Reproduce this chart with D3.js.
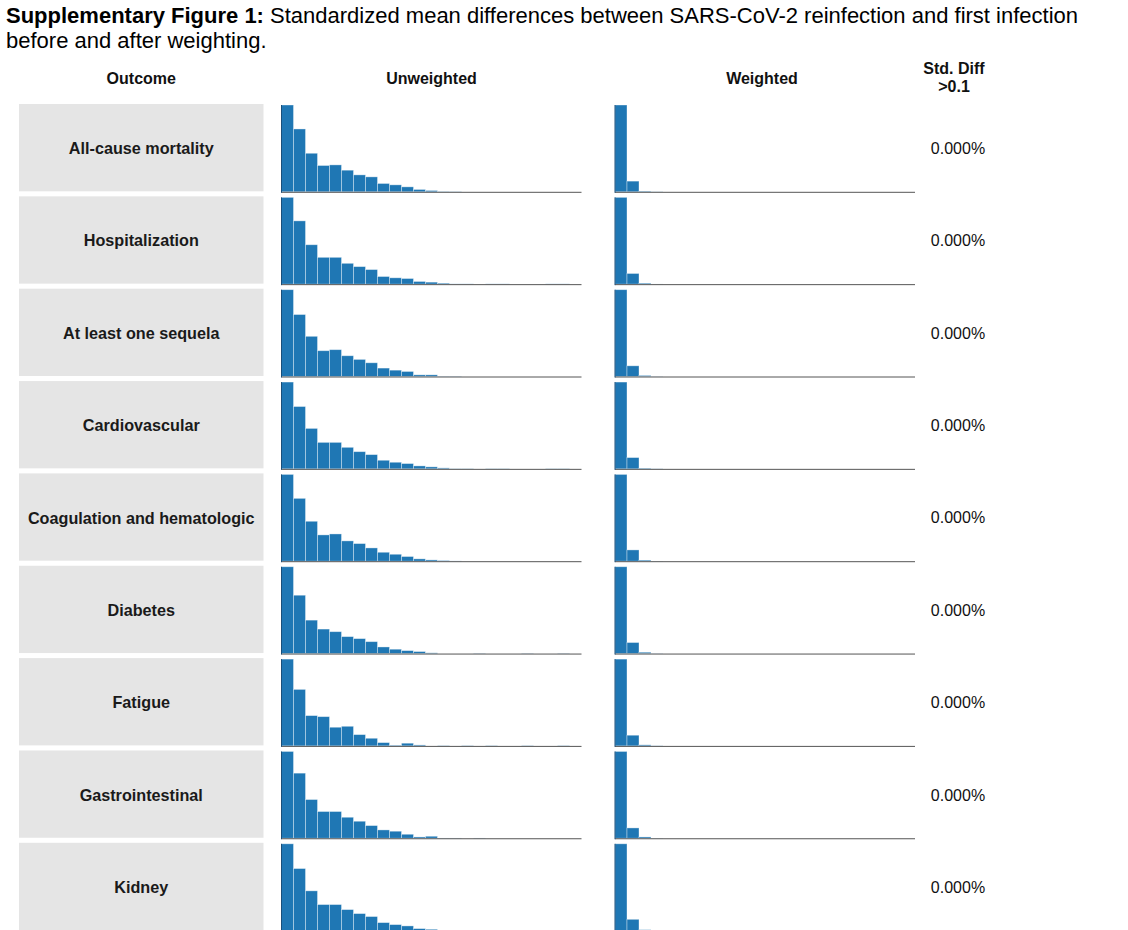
<!DOCTYPE html>
<html>
<head>
<meta charset="utf-8">
<script src="https://cdn.jsdelivr.net/npm/d3@7"></script>
<style>
  body { margin: 0; background: #fff; }
  text { font-family: "Liberation Sans", Arial, sans-serif; }
</style>
</head>
<body>
<div id="chart"></div>
<script>
// DATA ------------------------------------------------------------
let outcomes = [
  "All-cause mortality",
  "Hospitalization",
  "At least one sequela",
  "Cardiovascular",
  "Coagulation and hematologic",
  "Diabetes",
  "Fatigue",
  "Gastrointestinal",
  "Kidney",
];

// relative bin heights (tallest bin = 100), 25 bins per histogram
let unweighted = [
  [100, 72.4, 44.4, 30.3, 31.0, 24.9, 19.5, 17.2, 9.6, 8.0, 5.7, 2.7, 1.5, 0.4, 0.3, 0, 0, 0, 0, 0, 0, 0, 0, 0, 0],
  [100, 72.9, 45.4, 30.9, 30.9, 24.0, 20.2, 16.8, 8.8, 7.3, 6.5, 3.1, 2.3, 1.1, 0.3, 0.3, 0, 0.3, 0.3, 0, 0, 0, 0.3, 0.3, 0],
  [100, 71.4, 46.3, 29.7, 30.9, 23.9, 19.7, 15.8, 9.7, 7.3, 5.8, 1.9, 1.9, 0.3, 0.3, 0, 0, 0, 0, 0, 0, 0, 0, 0, 0],
  [100, 71.8, 46.6, 30.5, 30.5, 24.8, 19.8, 16.4, 9.9, 7.6, 6.1, 3.4, 2.3, 1.1, 0.3, 0.3, 0, 0.3, 0.3, 0, 0, 0, 0.3, 0.3, 0],
  [100, 72.4, 46.0, 30.3, 31.4, 23.4, 20.3, 15.3, 10.3, 8.0, 5.4, 2.7, 1.5, 0.8, 0.3, 0, 0, 0, 0, 0, 0, 0, 0, 0, 0],
  [100, 67.2, 38.5, 28.2, 25.2, 19.5, 17.2, 13.7, 7.6, 5.0, 3.4, 2.3, 0.8, 0, 0, 0, 0.3, 0, 0, 0, 0.3, 0, 0, 0.3, 0],
  [100, 65.1, 34.9, 33.7, 21.5, 22.6, 13.0, 8.8, 3.8, 0.8, 3.1, 1.1, 0, 0.3, 0, 0.3, 0, 0.3, 0, 0, 0.3, 0, 0, 0.3, 0],
  [100, 75.0, 44.6, 30.8, 30.8, 24.2, 19.6, 14.6, 9.6, 8.1, 4.6, 1.5, 2.3, 0.3, 0.3, 0, 0.3, 0, 0, 0, 0, 0, 0, 0, 0],
  [100, 71.5, 45.8, 30.0, 30.0, 24.2, 19.6, 16.2, 9.2, 6.9, 5.4, 2.3, 1.5, 0.4, 0.3, 0, 0, 0, 0, 0, 0, 0, 0, 0, 0],
];

let weighted = [
  [100, 12.3, 0.8, 0.2, 0, 0, 0, 0, 0, 0, 0, 0, 0, 0, 0, 0, 0, 0, 0, 0, 0, 0, 0, 0, 0],
  [100, 12.3, 1.1, 0.2, 0, 0, 0, 0, 0, 0, 0, 0, 0, 0, 0, 0, 0, 0, 0, 0, 0, 0, 0, 0, 0],
  [100, 12.3, 1.2, 0.2, 0, 0, 0, 0, 0, 0, 0, 0, 0, 0, 0, 0, 0, 0, 0, 0, 0, 0, 0, 0, 0],
  [100, 13.0, 0.8, 0.2, 0, 0, 0, 0, 0, 0, 0, 0, 0, 0, 0, 0, 0, 0, 0, 0, 0, 0, 0, 0, 0],
  [100, 13.0, 1.2, 0.2, 0, 0, 0, 0, 0, 0, 0, 0, 0, 0, 0, 0, 0, 0, 0, 0, 0, 0, 0, 0, 0],
  [100, 12.7, 1.5, 0.2, 0, 0, 0, 0, 0, 0, 0, 0, 0, 0, 0, 0, 0, 0, 0, 0, 0, 0, 0, 0, 0],
  [100, 12.3, 1.2, 0.2, 0, 0, 0, 0, 0, 0, 0, 0, 0, 0, 0, 0, 0, 0, 0, 0, 0, 0, 0, 0, 0],
  [100, 11.9, 1.5, 0.2, 0, 0, 0, 0, 0, 0, 0, 0, 0, 0, 0, 0, 0, 0, 0, 0, 0, 0, 0, 0, 0],
  [100, 13.0, 1.0, 0.2, 0, 0, 0, 0, 0, 0, 0, 0, 0, 0, 0, 0, 0, 0, 0, 0, 0, 0, 0, 0, 0],
];

let std_diff = ["0.000%", "0.000%", "0.000%", "0.000%", "0.000%", "0.000%", "0.000%", "0.000%", "0.000%"];

let headers = ["Outcome", "Unweighted", "Weighted"];

// LAYOUT ----------------------------------------------------------
let width = 1128,
  height = 930;

let layout = {
  rows_top: 104,
  row_pitch: 92.35,
  row_height: 87.3,
  label_x0: 19,
  label_x1: 263.5,
  unw_x0: 281.5,
  unw_x1: 581.5,
  w_x0: 615,
  w_x1: 915,
  diff_x: 958,
  n_bins: 25,
};

let svg = d3
  .select("#chart")
  .append("svg")
  .attr("width", width)
  .attr("height", height);

// Title
let title = svg.append("text").attr("x", 6).attr("y", 23).attr("font-size", 22);
title.append("tspan").attr("font-weight", "bold").text("Supplementary Figure 1:");
title
  .append("tspan")
  .text(" Standardized mean differences between SARS-CoV-2 reinfection and first infection");
svg
  .append("text")
  .attr("x", 6)
  .attr("y", 48)
  .attr("font-size", 22)
  .text("before and after weighting.");

// Column headers
let header_x = [
  (layout.label_x0 + layout.label_x1) / 2,
  (layout.unw_x0 + layout.unw_x1) / 2,
  762,
];
svg
  .selectAll(".col-header")
  .data(headers)
  .enter()
  .append("text")
  .attr("class", "col-header")
  .attr("x", (d, i) => header_x[i])
  .attr("y", 84)
  .attr("text-anchor", "middle")
  .attr("font-size", 16)
  .attr("font-weight", "bold")
  .attr("fill", "#111")
  .text((d) => d);

let diff_header = svg
  .append("text")
  .attr("x", 954)
  .attr("y", 74)
  .attr("text-anchor", "middle")
  .attr("font-size", 16)
  .attr("font-weight", "bold")
  .attr("fill", "#111");
diff_header.append("tspan").attr("x", 954).text("Std. Diff");
diff_header.append("tspan").attr("x", 954).attr("dy", 17.5).text(">0.1");

// Scales
// band step = row_pitch, band width = row_height
let y_row = d3
  .scaleBand()
  .domain(outcomes)
  .range([
    layout.rows_top,
    layout.rows_top + layout.row_pitch * (outcomes.length - 1) + layout.row_height,
  ])
  .paddingInner(1 - layout.row_height / layout.row_pitch)
  .paddingOuter(0)
  .align(0);

let x_unw = d3
  .scaleLinear()
  .domain([0, layout.n_bins])
  .range([layout.unw_x0, layout.unw_x1]);
let x_w = d3
  .scaleLinear()
  .domain([0, layout.n_bins])
  .range([layout.w_x0, layout.w_x1]);

// Rows
let rows = svg
  .selectAll(".row")
  .data(outcomes)
  .enter()
  .append("g")
  .attr("class", "row");

// grey label boxes
rows
  .append("rect")
  .attr("x", layout.label_x0)
  .attr("y", (d) => y_row(d))
  .attr("width", layout.label_x1 - layout.label_x0)
  .attr("height", y_row.bandwidth())
  .attr("fill", "#e5e5e5");

rows
  .append("text")
  .attr("x", (layout.label_x0 + layout.label_x1) / 2)
  .attr("y", (d) => y_row(d) + y_row.bandwidth() / 2)
  .attr("dy", ".4em")
  .attr("text-anchor", "middle")
  .attr("font-size", 16.2)
  .attr("font-weight", "bold")
  .attr("fill", "#1a1a1a")
  .text((d) => d);

rows
  .append("text")
  .attr("x", layout.diff_x)
  .attr("y", (d) => y_row(d) + y_row.bandwidth() / 2)
  .attr("dy", ".4em")
  .attr("text-anchor", "middle")
  .attr("font-size", 16)
  .attr("fill", "#111")
  .text((d, i) => std_diff[i]);

// Histograms
function drawHistogram(g, values, x, top, bottom) {
  let y = d3.scaleLinear().domain([0, d3.max(values)]).range([bottom, top]);

  g.selectAll(null)
    .data(values)
    .enter()
    .append("rect")
    .attr("x", (d, i) => x(i))
    .attr("width", x(1) - x(0))
    .attr("y", (d) => y(d))
    .attr("height", (d) => bottom - y(d))
    .attr("fill", "#1f77b4")
    .attr("stroke", "#ffffff")
    .attr("stroke-opacity", 0.45)
    .attr("stroke-width", 0.8);

  // baseline
  g.append("line")
    .attr("x1", x.range()[0])
    .attr("x2", x.range()[1])
    .attr("y1", bottom + 0.5)
    .attr("y2", bottom + 0.5)
    .attr("stroke", "#555")
    .attr("stroke-width", 1);

  // left edge
  g.append("line")
    .attr("x1", x.range()[0])
    .attr("x2", x.range()[0])
    .attr("y1", top)
    .attr("y2", bottom + 1)
    .attr("stroke", "#1a4f7a")
    .attr("stroke-width", 1);
}

rows.each(function (d, i) {
  let g = d3.select(this);
  let top = y_row(d) + 1;
  let bottom = y_row(d) + y_row.bandwidth() + 0.5;
  drawHistogram(g.append("g"), unweighted[i], x_unw, top, bottom);
  drawHistogram(g.append("g"), weighted[i], x_w, top, bottom);
});
</script>
</body>
</html>
